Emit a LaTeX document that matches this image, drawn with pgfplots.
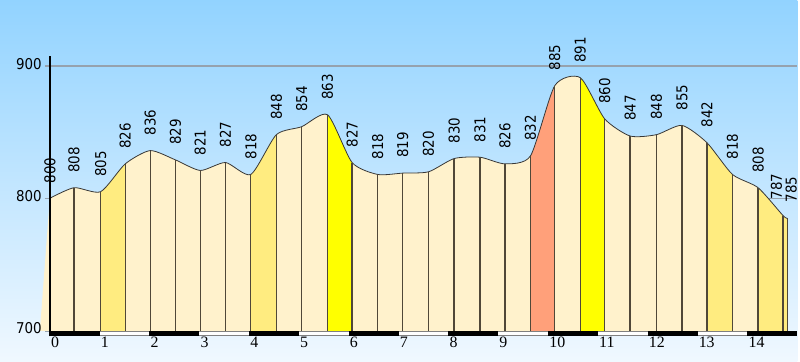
\documentclass[border=0pt]{standalone}
\usepackage{pgfplots}
\pgfplotsset{compat=1.18}
\usepackage{pgfplotstable}
\usepgfplotslibrary{fillbetween}
\usepackage{fontspec}
\newfontfamily\lab[FakeStretch=0.9]{DejaVu Sans}
\newfontfamily\kmf{Liberation Serif}
\definecolor{cream}{RGB}{255,242,204}
\definecolor{lyel}{RGB}{255,236,128}
\definecolor{yel}{RGB}{255,255,0}
\definecolor{salm}{RGB}{255,160,122}
\definecolor{bgtop}{RGB}{146,211,255}
\definecolor{bgbot}{RGB}{240,248,255}
\definecolor{gridc}{RGB}{150,162,174}
\definecolor{vl}{RGB}{80,72,56}
\definecolor{curvec}{RGB}{55,55,55}

\pgfplotstableread{
x y
0 800
0.486 808
1.02 805
1.514 826
2.014 836
2.52 829
3.02 821
3.526 827
4.034 818
4.546 848
5.054 854
5.574 863
6.066 827
6.58 818
7.08 819
7.6 820
8.114 830
8.634 831
9.134 826
9.646 832
10.134 885
10.646 891
11.134 860
11.646 847
12.174 848
12.686 855
13.186 842
13.7 818
14.214 808
14.714 787
14.8 785
}\prof

\pgfplotstableread{
x y
0 800
0.486 808
1.02 805
1.514 826
2.014 836
2.52 829
3.02 821
3.526 827
4.034 818
4.546 848
5.054 854
5.574 863
6.066 827
6.58 818
7.08 819
7.6 820
8.114 830
8.634 831
9.134 826
9.646 832
10.134 885
10.646 891
11.134 860
11.646 847
12.174 848
12.686 855
13.186 842
13.7 818
14.214 808
}\labs

\pgfplotstableread{
x y
0.486 700
0.486 808
0.486 nan
1.02 700
1.02 805
1.02 nan
1.514 700
1.514 826
1.514 nan
2.014 700
2.014 836
2.014 nan
2.52 700
2.52 829
2.52 nan
3.02 700
3.02 821
3.02 nan
3.526 700
3.526 827
3.526 nan
4.034 700
4.034 818
4.034 nan
4.546 700
4.546 848
4.546 nan
5.054 700
5.054 854
5.054 nan
5.574 700
5.574 863
5.574 nan
6.066 700
6.066 827
6.066 nan
6.58 700
6.58 818
6.58 nan
7.08 700
7.08 819
7.08 nan
7.6 700
7.6 820
7.6 nan
8.114 700
8.114 830
8.114 nan
8.634 700
8.634 831
8.634 nan
9.134 700
9.134 826
9.134 nan
9.646 700
9.646 832
9.646 nan
10.134 700
10.134 885
10.134 nan
10.646 700
10.646 891
10.646 nan
11.134 700
11.134 860
11.134 nan
11.646 700
11.646 847
11.646 nan
12.174 700
12.174 848
12.174 nan
12.686 700
12.686 855
12.686 nan
13.186 700
13.186 842
13.186 nan
13.7 700
13.7 818
13.7 nan
14.214 700
14.214 808
14.214 nan
14.714 700
14.714 787
14.714 nan
14.8 700
14.8 785
}\vlines

\pgfplotstableread{
x y
0 697.95
1 697.95
1 nan
2 697.95
3 697.95
3 nan
4 697.95
5 697.95
5 nan
6 697.95
7 697.95
7 nan
8 697.95
9 697.95
9 nan
10 697.95
11 697.95
11 nan
12 697.95
13 697.95
13 nan
14 697.95
15 697.95
}\blackbar

\begin{document}
\begin{tikzpicture}
\begin{axis}[
  scale only axis, width=800bp, height=363bp,
  xmin=-1, xmax=15, ymin=676.7, ymax=949.6,
  axis line style={draw=none}, xtick=\empty, ytick=\empty,
  clip=false,
  unbounded coords=jump,
  axis background/.style={shade, top color=bgtop, bottom color=bgbot},
  /tikz/fill between/on layer=main,
]
% grid lines
\addplot[gridc, line width=1.6bp] coordinates {(-0.1,900) (15,900)};
\addplot[gridc, line width=1.6bp] coordinates {(-0.1,800) (15,800)};
\addplot[gridc, line width=1.6bp] coordinates {(-0.1,700) (0,700)};

% profile paths
\addplot[name path=prof, draw=none, smooth, tension=0.4] table {\prof};
\addplot[name path=base, draw=none] coordinates {(-0.5,700) (14.8,700)};

\addplot[fill=cream, draw=none] fill between[of=prof and base, soft clip={domain=-0.2:1.02}];
\addplot[fill=lyel, draw=none] fill between[of=prof and base, soft clip={domain=1.02:1.514}];
\addplot[fill=cream, draw=none] fill between[of=prof and base, soft clip={domain=1.514:4.034}];
\addplot[fill=lyel, draw=none] fill between[of=prof and base, soft clip={domain=4.034:4.546}];
\addplot[fill=cream, draw=none] fill between[of=prof and base, soft clip={domain=4.546:5.574}];
\addplot[fill=yel, draw=none] fill between[of=prof and base, soft clip={domain=5.574:6.066}];
\addplot[fill=cream, draw=none] fill between[of=prof and base, soft clip={domain=6.066:9.646}];
\addplot[fill=salm, draw=none] fill between[of=prof and base, soft clip={domain=9.646:10.134}];
\addplot[fill=cream, draw=none] fill between[of=prof and base, soft clip={domain=10.134:10.646}];
\addplot[fill=yel, draw=none] fill between[of=prof and base, soft clip={domain=10.646:11.134}];
\addplot[fill=cream, draw=none] fill between[of=prof and base, soft clip={domain=11.134:13.186}];
\addplot[fill=lyel, draw=none] fill between[of=prof and base, soft clip={domain=13.186:13.7}];
\addplot[fill=cream, draw=none] fill between[of=prof and base, soft clip={domain=13.7:14.214}];
\addplot[fill=lyel, draw=none] fill between[of=prof and base, soft clip={domain=14.214:14.8}];

% curve
\addplot[curvec, line width=0.8bp, smooth, tension=0.4] table {\prof};
% vertical lines
\addplot[vl, line width=1.3bp] table {\vlines};

% km bar
\addplot[gray, line width=5.5bp] coordinates {(0,697.95) (15,697.95)};
\addplot[white, line width=3.6bp] coordinates {(0,697.95) (15,697.95)};
\addplot[black, line width=5.5bp] table {\blackbar};

% y axis
\addplot[black, line width=2bp] coordinates {(0,695.9) (0,907.5)};

% elevation labels
\addplot[draw=none, mark=none, nodes near coords, point meta=explicit symbolic,
  nodes near coords style={rotate=90, anchor=west, inner xsep=15bp, inner ysep=0pt,
  font=\lab\fontsize{15}{15}\selectfont, text=black}]
  table[x=x, y=y, meta=y] {\labs};
\node[rotate=90, anchor=west, inner sep=0pt, font=\lab\fontsize{15}{15}\selectfont] at (axis cs:14.58,799.2) {787};
\node[rotate=90, anchor=west, inner sep=0pt, font=\lab\fontsize{15}{15}\selectfont] at (axis cs:14.88,797) {785};

% y tick labels
\node[anchor=east, inner sep=0pt, font=\lab\fontsize{15}{15}\selectfont] at ([yshift=2bp]axis cs:-0.16,900) {900};
\node[anchor=east, inner sep=0pt, font=\lab\fontsize{15}{15}\selectfont] at ([yshift=2bp]axis cs:-0.16,800) {800};
\node[anchor=east, inner sep=0pt, font=\lab\fontsize{15}{15}\selectfont] at ([yshift=3bp]axis cs:-0.16,700) {700};

% km labels
\pgfplotsinvokeforeach{0,...,14}{
  \node[anchor=north west, inner sep=0pt, font=\kmf\fontsize{16}{16}\selectfont] at (axis cs:#1+0.02,695.6) {#1};
}
\end{axis}
\end{tikzpicture}
\end{document}
